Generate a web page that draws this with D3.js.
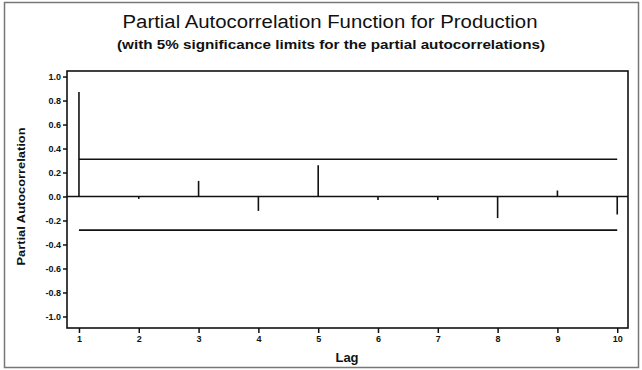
<!DOCTYPE html>
<html>
<head>
<meta charset="utf-8">
<script src="https://cdnjs.cloudflare.com/ajax/libs/d3/7.8.5/d3.min.js"></script>
<style>
  body { margin: 0; background: #fff; }
  svg { display: block; font-family: "Liberation Sans", Arial, sans-serif; }
</style>
</head>
<body>
<svg id="chart" width="642" height="370"></svg>
<script>
// chart data
var lags = [1, 2, 3, 4, 5, 6, 7, 8, 9, 10];
var pacf = [0.87, -0.02, 0.13, -0.12, 0.26, -0.03, -0.03, -0.18, 0.05, -0.15];
var upperLimit = 0.31;
var lowerLimit = -0.28;
var yTicks = [1.0, 0.8, 0.6, 0.4, 0.2, 0.0, -0.2, -0.4, -0.6, -0.8, -1.0];
var yTickLabels = ["1.0", "0.8", "0.6", "0.4", "0.2", "0.0", "-0.2", "-0.4", "-0.6", "-0.8", "-1.0"];

var svg = d3.select("#chart"),
    plotLeft = 67, plotRight = 628, plotTop = 71, plotBottom = 328;

// outer frame
svg.append("rect")
    .attr("x", 4.5).attr("y", 2.5)
    .attr("width", 634).attr("height", 365)
    .attr("fill", "none").attr("stroke", "#777").attr("stroke-width", 1.5);

var x = d3.scaleLinear().domain([0.8, 10.18]).range([plotLeft, plotRight]);
var y = d3.scaleLinear().domain([-1.096, 1.046]).range([plotBottom, plotTop]);

var g = svg.append("g");

// x axis
var xAxis = g.append("g")
    .attr("transform", "translate(0," + plotBottom + ")")
    .call(d3.axisBottom(x).tickValues(lags).tickSize(5).tickPadding(3).tickFormat(d3.format("d")));

// y axis
var yAxis = g.append("g")
    .attr("transform", "translate(" + plotLeft + ",0)")
    .call(d3.axisLeft(y).tickValues(yTicks).tickSize(4).tickPadding(2)
        .tickFormat(function(d, i) { return yTickLabels[i]; }));

[xAxis, yAxis].forEach(function(a) {
    a.select(".domain").remove();
    a.selectAll(".tick line").attr("stroke", "#111").attr("stroke-width", 1.5);
    a.selectAll(".tick text")
        .attr("fill", "#111")
        .style("font-weight", "bold")
        .style("font-size", "9px")
        .style("font-family", "'Liberation Sans Narrow', 'Liberation Sans', sans-serif");
});

// plot frame
g.append("rect")
    .attr("x", plotLeft).attr("y", plotTop)
    .attr("width", plotRight - plotLeft).attr("height", plotBottom - plotTop)
    .attr("fill", "none").attr("stroke", "#111").attr("stroke-width", 1.6);

// zero line
g.append("line")
    .attr("x1", plotLeft).attr("x2", plotRight)
    .attr("y1", y(0)).attr("y2", y(0))
    .attr("stroke", "#111").attr("stroke-width", 1.6);

// significance limits
[upperLimit, lowerLimit].forEach(function(v) {
    g.append("line")
        .attr("x1", x(lags[0])).attr("x2", x(lags[lags.length - 1]))
        .attr("y1", y(v)).attr("y2", y(v))
        .attr("stroke", "#111").attr("stroke-width", 1.6);
});

// spikes
g.selectAll(".spike")
    .data(lags)
    .enter()
    .append("line")
    .attr("class", "spike")
    .attr("x1", function(d) { return x(d); })
    .attr("x2", function(d) { return x(d); })
    .attr("y1", y(0))
    .attr("y2", function(d, i) { return y(pacf[i]); })
    .attr("stroke", "#111").attr("stroke-width", 1.6);

// titles
svg.append("text")
    .attr("x", 330).attr("y", 28)
    .attr("text-anchor", "middle")
    .attr("textLength", 415).attr("lengthAdjust", "spacingAndGlyphs")
    .style("font-size", "18px")
    .attr("fill", "#111")
    .text("Partial Autocorrelation Function for Production");

svg.append("text")
    .attr("x", 331).attr("y", 49)
    .attr("text-anchor", "middle")
    .attr("textLength", 428).attr("lengthAdjust", "spacingAndGlyphs")
    .style("font-size", "12px").style("font-weight", "bold")
    .attr("fill", "#111")
    .text("(with 5% significance limits for the partial autocorrelations)");

svg.append("text")
    .attr("x", 347).attr("y", 362)
    .attr("text-anchor", "middle")
    .style("font-size", "13px").style("font-weight", "bold")
    .attr("fill", "#111")
    .text("Lag");

svg.append("text")
    .attr("transform", "translate(25," + y(0) + ") rotate(-90)")
    .attr("text-anchor", "middle")
    .attr("textLength", 138).attr("lengthAdjust", "spacingAndGlyphs")
    .style("font-size", "11px").style("font-weight", "bold")
    .attr("fill", "#111")
    .text("Partial Autocorrelation");
</script>
</body>
</html>
